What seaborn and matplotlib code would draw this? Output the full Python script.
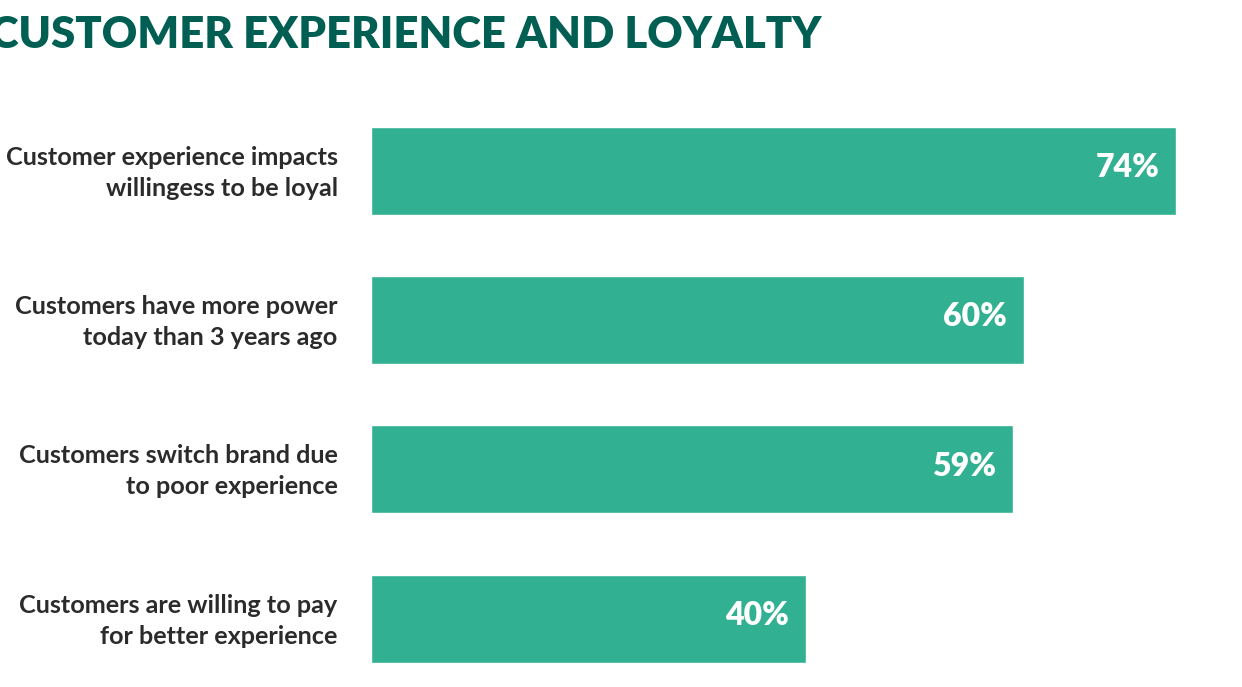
import pandas as pd
import matplotlib
matplotlib.use("Agg")
import matplotlib.pyplot as plt
import matplotlib.transforms as mtransforms
import seaborn as sns

# === Data ===
labels = [
    "Customer experience impacts\nwillingess to be loyal",
    "Customers have more power\ntoday than 3 years ago",
    "Customers switch brand due\nto poor experience",
    "Customers are willing to pay\nfor better experience",
]
values = [74, 60, 59, 40]
value_text = ["74%", "60%", "59%", "40%"]

df = pd.DataFrame({"label": labels, "value": values})

sns.set_style("white")
plt.rcParams["font.family"] = ["Lato", "DejaVu Sans"]

BAR = "#31b191"
TITLE = "#005e52"
TEXT = "#2b2b2b"

fig = plt.figure(figsize=(12.42, 6.87), dpi=100)
# axes placed so bars start at x=371px and the scale is ~10.88 px per percent
ax = fig.add_axes([371 / 1242, 0.0, 871 / 1242, 1 - 96 / 687])

sns.barplot(data=df, x="value", y="label", color=BAR, width=0.59,
            saturation=1, ax=ax)

ax.set_xlim(0, 871 / 10.88)
ax.set_ylim(-0.5 + (687 - 96) / 149.3, -0.5)

for i, (v, t) in enumerate(zip(values, value_text)):
    ax.text(v - 1.55, i - 0.02, t, ha="right", va="center", color="white",
            fontsize=23, fontweight="heavy", family=["Lato", "DejaVu Sans"])

ax.set_xlabel("")
ax.set_ylabel("")
ax.set_xticks([])
ax.tick_params(axis="y", length=0, pad=24)
offset = mtransforms.ScaledTranslation(0, 4 / 100, fig.dpi_scale_trans)
for lab in ax.get_yticklabels():
    lab.set_fontsize(18.2)
    lab.set_fontweight("bold")
    lab.set_color(TEXT)
    lab.set_horizontalalignment("right")
    lab.set_multialignment("right")
    lab.set_linespacing(1.42)
    lab.set_transform(lab.get_transform() + offset)
sns.despine(ax=ax, left=True, bottom=True)

fig.text(-0.008, 0.949, "CUSTOMER EXPERIENCE AND LOYALTY", ha="left", va="center",
         fontsize=31.4, fontweight="heavy", color=TITLE,
         family=["Lato", "DejaVu Sans"])

fig.savefig("out.png", dpi=100, facecolor="white")
